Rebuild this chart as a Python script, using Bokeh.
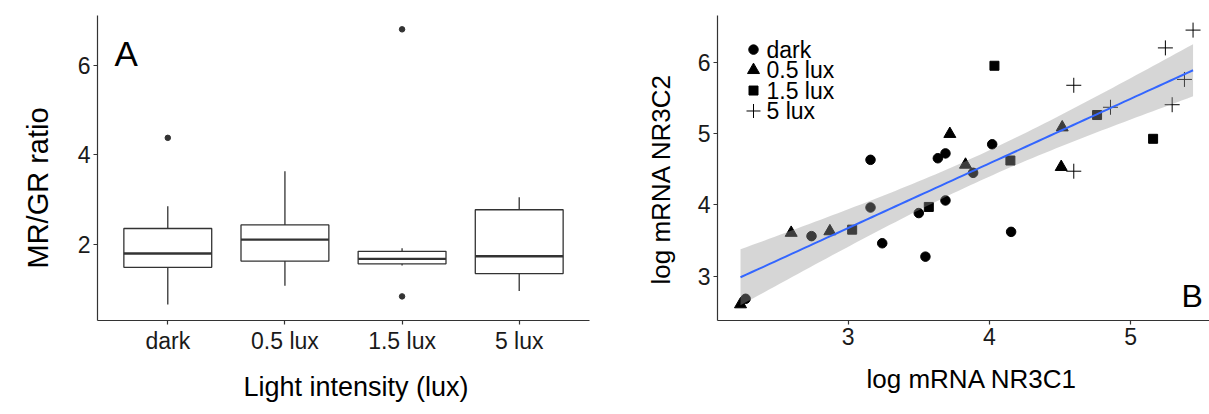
import numpy as np
from bokeh.plotting import figure
from bokeh.layouts import row
from bokeh.models import Range1d, FixedTicker, Label, Title
from bokeh.core.properties import value
from bokeh.embed import file_html
from bokeh.resources import INLINE

FONT = "Liberation Sans"

# ---------------- Panel A data (box plot statistics) ----------------
categories = ["dark", "0.5 lux", "1.5 lux", "5 lux"]
box_low = [0.65, 1.07, 1.52, 0.95]
box_q1 = [1.48, 1.62, 1.56, 1.34]
box_median = [1.79, 2.10, 1.67, 1.73]
box_q3 = [2.35, 2.43, 1.84, 2.77]
box_high = [2.85, 3.63, 1.91, 3.05]
outlier_cat = ["dark", "1.5 lux", "1.5 lux"]
outlier_val = [4.38, 6.81, 0.83]
a_yticks = [2, 4, 6]

# ---------------- Panel B data (scatter) ----------------
dark_x = [2.273, 2.740, 3.158, 3.158, 3.241, 3.500, 3.547, 3.635, 3.689, 3.689, 3.885, 4.020, 4.154]
dark_y = [2.681, 3.561, 4.633, 3.963, 3.461, 3.885, 3.273, 4.655, 4.723, 4.062, 4.450, 4.851, 3.621]
lux05_x = [2.237, 2.596, 2.870, 3.720, 3.831, 4.516, 4.509]
lux05_y = [2.603, 3.607, 3.629, 4.996, 4.564, 5.088, 4.532]
lux15_x = [3.028, 3.571, 4.036, 4.149, 4.763, 5.160]
lux15_y = [3.652, 3.971, 5.954, 4.623, 5.262, 4.928]
lux5_x = [4.598, 4.858, 5.247, 5.295, 5.382, 5.443, 4.598]
lux5_y = [5.680, 5.371, 6.205, 5.407, 5.762, 6.455, 4.473]
legend_labels = ["dark", "0.5 lux", "1.5 lux", "5 lux"]
b_xticks = [3, 4, 5]
b_yticks = [3, 4, 5, 6]
T975 = 2.04  # t quantile for 95% CI, df = n - 2 = 31

# marker style per group (shared by points and legend keys)
MARKERS = [("circle", 9.5), ("triangle", 12), ("square", 9), ("cross", 15)]

# ---------------- layout geometry (page pixels) ----------------
W, H = 1209, 414
A_W = 628
A_FRAME = dict(left=97, right=589, top=15, bottom=324)
B_FRAME = dict(left=717, right=1209, top=15, bottom=328)
A_XR, A_YR = (0.4, 4.6), (0.29, 7.12)
B_XR, B_YR = (2.074, 5.5595), (2.376, 6.66)


def mapper(frame, xr, yr):
    fw = frame["right"] - frame["left"]
    fh = frame["bottom"] - frame["top"]

    def fx(px):
        return xr[0] + (px - frame["left"]) / fw * (xr[1] - xr[0])

    def fy(py):
        return yr[0] + (frame["bottom"] - py) / fh * (yr[1] - yr[0])
    return fx, fy


ax_, ay_ = mapper(A_FRAME, A_XR, A_YR)
bx_, by_ = mapper(B_FRAME, B_XR, B_YR)


def style_axes(p):
    p.xgrid.visible = False
    p.ygrid.visible = False
    p.outline_line_color = None
    p.background_fill_color = "white"
    for ax in (p.xaxis[0], p.yaxis[0]):
        ax.axis_line_color = "#333333"
        ax.axis_line_width = 1.2
        ax.major_tick_line_color = "#333333"
        ax.major_tick_line_width = 1.2
        ax.major_tick_out = 4
        ax.major_tick_in = 0
        ax.minor_tick_line_color = None
        ax.major_label_text_font = FONT
        ax.major_label_text_font_size = "23px"
        ax.major_label_text_color = "#1a1a1a"
        ax.major_label_standoff = 3


def axis_title(text, size, offset, standoff, valign="bottom"):
    return Title(text=text, align="left", offset=offset, standoff=standoff,
                 vertical_align=valign,
                 text_font=FONT, text_font_size=size, text_font_style="normal",
                 text_color="black", text_line_height=1.0)


def text_label(x, y, text, size):
    return Label(x=x, y=y, text=text, text_align="left", text_baseline="alphabetic",
                 text_font=FONT, text_font_size=size, text_color="black")


# ---------------- Panel A ----------------
pA = figure(width=A_W, height=H, x_range=Range1d(*A_XR), y_range=Range1d(*A_YR),
            output_backend="svg", toolbar_location=None,
            min_border_left=A_FRAME["left"], min_border_right=A_W - A_FRAME["right"],
            min_border_top=A_FRAME["top"], min_border_bottom=H - A_FRAME["bottom"])
pos = [i + 1 for i in range(len(categories))]
half = 0.375
pA.segment(x0=pos, y0=box_q3, x1=pos, y1=box_high, line_color="#333333", line_width=1.3)
pA.segment(x0=pos, y0=box_q1, x1=pos, y1=box_low, line_color="#333333", line_width=1.3)
pA.quad(left=[x - half for x in pos], right=[x + half for x in pos], bottom=box_q1, top=box_q3,
        fill_color="white", line_color="#333333", line_width=1.3)
pA.segment(x0=[x - half for x in pos], y0=box_median, x1=[x + half for x in pos], y1=box_median,
           line_color="#333333", line_width=2.4)
pA.scatter([categories.index(c) + 1 for c in outlier_cat], outlier_val, size=5.5,
           marker="circle", color="#333333")
style_axes(pA)
pA.xaxis.ticker = FixedTicker(ticks=pos)
pA.xaxis.major_label_overrides = {x: c for x, c in zip(pos, categories)}
pA.yaxis.ticker = FixedTicker(ticks=a_yticks)
pA.add_layout(axis_title("Light intensity (lux)", "27px", 146, 26), "below")
pA.add_layout(axis_title("MR/GR ratio", "29px", 52, 38, valign="top"), "left")
pA.add_layout(text_label(ax_(114), ay_(53), "A", "35px"))

# ---------------- Panel B ----------------
B_W = W - A_W
pB = figure(width=B_W, height=H, x_range=Range1d(*B_XR), y_range=Range1d(*B_YR),
            output_backend="svg", toolbar_location=None,
            min_border_left=B_FRAME["left"] - A_W, min_border_right=0,
            min_border_top=B_FRAME["top"], min_border_bottom=H - B_FRAME["bottom"])
groups = [(dark_x, dark_y), (lux05_x, lux05_y), (lux15_x, lux15_y), (lux5_x, lux5_y)]
for (gx, gy), (mk, sz) in zip(groups, MARKERS):
    if mk == "cross":
        pB.scatter(gx, gy, marker=mk, size=sz, line_color="black", line_width=1)
    else:
        pB.scatter(gx, gy, marker=mk, size=sz, color="black")

# linear fit with 95% confidence band (as geom_smooth(method="lm"))
X = np.array(dark_x + lux05_x + lux15_x + lux5_x)
Y = np.array(dark_y + lux05_y + lux15_y + lux5_y)
n = len(X)
b1, b0 = np.polyfit(X, Y, 1)
res = Y - (b0 + b1 * X)
s = np.sqrt(np.sum(res ** 2) / (n - 2))
xm = X.mean()
sxx = np.sum((X - xm) ** 2)
xg = np.linspace(X.min(), X.max(), 80)
fit = b0 + b1 * xg
se = s * np.sqrt(1.0 / n + (xg - xm) ** 2 / sxx)
pB.varea(x=xg, y1=fit - T975 * se, y2=fit + T975 * se, fill_color="#999999", fill_alpha=0.4)
pB.line(xg, fit, line_color="#3366FF", line_width=2)

# legend drawn inside the panel (compact rows as in the ggplot legend)
row_py = [50 + 21 * i for i in range(len(legend_labels))]
key_x = bx_(753)
text_x = bx_(766)
for (mk, sz), py in zip(MARKERS, row_py):
    if mk == "cross":
        pB.scatter([key_x], [by_(py)], marker=mk, size=sz - 1, line_color="black", line_width=1)
    else:
        pB.scatter([key_x], [by_(py)], marker=mk, size=sz, color="black")
pB.text(x=[text_x] * len(legend_labels), y=[by_(py) for py in row_py], text=legend_labels,
        text_font=value(FONT), text_font_size="23px", text_color="black",
        text_baseline="middle", text_align="left")

style_axes(pB)
pB.xaxis.ticker = FixedTicker(ticks=b_xticks)
pB.yaxis.ticker = FixedTicker(ticks=b_yticks)
pB.add_layout(axis_title("log mRNA NR3C1", "26px", 149, 28), "below")
pB.add_layout(axis_title("log mRNA NR3C2", "26px", 36, 34, valign="top"), "left")
pB.add_layout(text_label(bx_(1181), by_(303), "B", "32px"))

layout = row(pA, pB)
open("out.html", "w").write(file_html(layout, INLINE))
